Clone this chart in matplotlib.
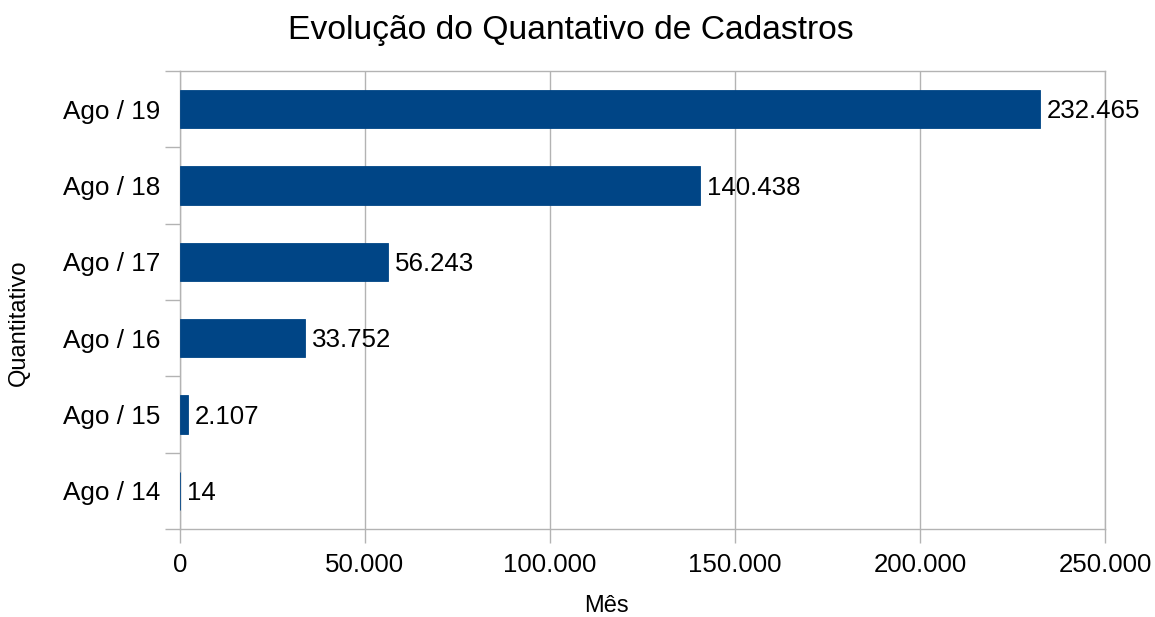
import matplotlib
matplotlib.use("Agg")
import matplotlib.pyplot as plt
import numpy as np

plt.rcParams["font.family"] = ["Liberation Sans", "DejaVu Sans"]

# dados do grafico
meses = ["Ago / 14", "Ago / 15", "Ago / 16", "Ago / 17", "Ago / 18", "Ago / 19"]
cadastros = [14, 2107, 33752, 56243, 140438, 232465]
xticks = [0, 50000, 100000, 150000, 200000, 250000]


def fmt_br(v):
    # separador de milhar com ponto
    return "{:,}".format(int(v)).replace(",", ".")


fig = plt.figure(figsize=(11.55, 6.17), dpi=100)
ax = fig.add_axes([180 / 1155, 1 - 529 / 617, 925 / 1155, 458 / 617])

y = np.arange(len(meses))
ax.barh(y, cadastros, height=0.5, color="#004586", edgecolor="#004586",
        linewidth=0.6, zorder=3)

for yi, v in zip(y, cadastros):
    ax.annotate(fmt_br(v), (v, yi), xytext=(5, -1.5), textcoords="offset points",
                va="center", ha="left", fontsize=18.6, color="black", zorder=4)

ax.set_xlim(0, 250000)
ax.set_ylim(-0.5, len(meses) - 0.5)
ax.set_xticks(xticks)
ax.set_xticklabels([fmt_br(t) for t in xticks], fontsize=18.6)

# rotulos no centro, ticks nas fronteiras
ax.set_yticks(y)
ax.set_yticklabels(meses, fontsize=18.8)
ax.tick_params(axis="y", which="major", length=0, pad=14)
ax.set_yticks(np.arange(-0.5, len(meses), 1), minor=True)
ax.tick_params(axis="y", which="minor", length=11, color="#b3b3b3", width=1)
ax.tick_params(axis="x", length=10, color="#b3b3b3", width=1, pad=7)

ax.grid(axis="x", color="#b3b3b3", linewidth=1, zorder=0)
for s in ax.spines.values():
    s.set_color("#b3b3b3")
    s.set_linewidth(1)

fig.text(0.494, 0.951, "Evolução do Quantativo de Cadastros", ha="center", va="center", fontsize=24.2)
fig.text(0.525, 1 - 606 / 617, "Mês", ha="center", va="center", fontsize=17)
fig.text(0.016, 1 - 323 / 617, "Quantitativo", ha="center", va="center", rotation=90, fontsize=17)

fig.savefig("out.png", dpi=100)
